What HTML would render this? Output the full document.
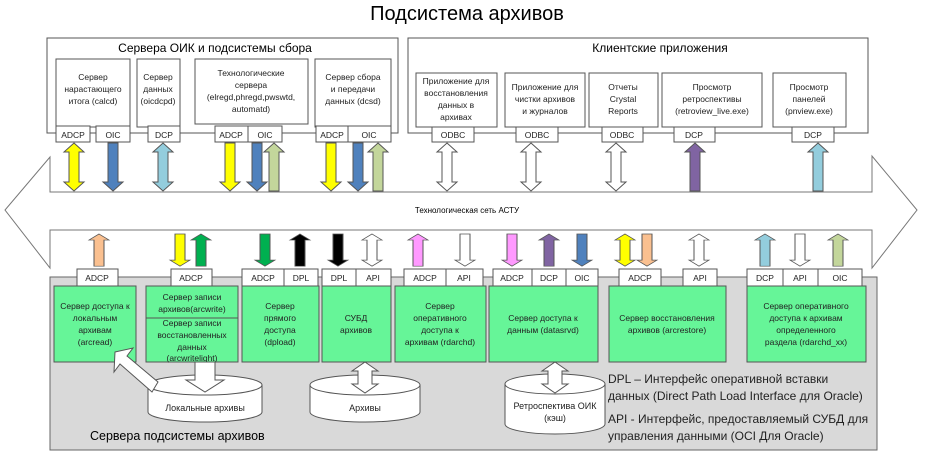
<!DOCTYPE html>
<html><head><meta charset="utf-8"><style>
body{margin:0;background:#fff}
svg{display:block;font-family:"Liberation Sans","Noto Sans CJK SC",sans-serif}
</style></head><body>
<svg width="934" height="458" viewBox="0 0 934 458" xmlns="http://www.w3.org/2000/svg">
<defs>
<path id="up" d="M0,0 L10,9 L5,9 L5,48 L-5,48 L-5,9 L-10,9 Z"/>
<path id="dn" d="M0,48 L10,39 L5,39 L5,0 L-5,0 L-5,39 L-10,39 Z"/>
<path id="db" d="M0,0 L10,9 L5,9 L5,39 L10,39 L0,48 L-10,39 L-5,39 L-5,9 L-10,9 Z"/>
</defs>
<text x="467" y="20" font-size="20" text-anchor="middle">Подсистема архивов</text>

<path d="M50,192 L50,157 L5,210 L50,268 L50,230 L872,230 L872,268 L917,210 L872,156 L872,192 Z" fill="#fff" stroke="#777" stroke-width="1"/>
<text x="467" y="213" font-size="8" text-anchor="middle">Технологическая сеть АСТУ</text>

<g stroke="#555" stroke-width="1" fill="#fff">
<rect x="47" y="38" width="351" height="95"/>
<rect x="408" y="38" width="460" height="95"/>
<rect x="56" y="59" width="74" height="68"/>
<rect x="137" y="59" width="43" height="68"/>
<rect x="195" y="59" width="113" height="65"/>
<rect x="315" y="59" width="76" height="68"/>
<rect x="56" y="126" width="34" height="16"/><rect x="96" y="126" width="34" height="16"/>
<rect x="148" y="126" width="32" height="16"/>
<rect x="215" y="126" width="33" height="16"/><rect x="248" y="126" width="34" height="16"/>
<rect x="316" y="126" width="32" height="16"/><rect x="348" y="126" width="43" height="16"/>
<rect x="416" y="73" width="81" height="54"/>
<rect x="505" y="73" width="80" height="54"/>
<rect x="589" y="73" width="69" height="54"/>
<rect x="662" y="73" width="100" height="54"/>
<rect x="773" y="73" width="73" height="54"/>
<rect x="432" y="127" width="42" height="15"/>
<rect x="516" y="127" width="42" height="15"/>
<rect x="602" y="127" width="41" height="15"/>
<rect x="674" y="127" width="41" height="15"/>
<rect x="792" y="127" width="42" height="15"/>
</g>
<g font-size="12" text-anchor="middle"><text x="215" y="52">Сервера ОИК и подсистемы сбора</text><text x="660" y="52">Клиентские приложения</text></g>
<g font-size="8.5" text-anchor="middle" fill="#222">
<text x="93" y="80">Сервер</text><text x="93" y="92">нарастающего</text><text x="93" y="104">итога (calcd)</text>
<text x="158" y="80">Сервер</text><text x="158" y="92">данных</text><text x="158" y="104">(oicdcpd)</text>
<text x="251" y="76">Технологические</text><text x="251" y="88">сервера</text><text x="251" y="100">(elregd,phregd,pwswtd,</text><text x="251" y="112">automatd)</text>
<text x="353" y="80">Сервер сбора</text><text x="353" y="92">и передачи</text><text x="353" y="104">данных (dcsd)</text>
<text x="456" y="84">Приложение для</text><text x="456" y="96">восстановления</text><text x="456" y="108">данных в</text><text x="456" y="120">архивах</text>
<text x="545" y="90">Приложение для</text><text x="545" y="102">чистки архивов</text><text x="545" y="114">и журналов</text>
<text x="623" y="90">Отчеты</text><text x="623" y="102">Crystal</text><text x="623" y="114">Reports</text>
<text x="712" y="90">Просмотр</text><text x="712" y="102">ретроспективы</text><text x="712" y="114">(retroview_live.exe)</text>
<text x="809" y="90">Просмотр</text><text x="809" y="102">панелей</text><text x="809" y="114">(pnview.exe)</text>
<text x="73" y="138">ADCP</text><text x="113" y="138">OIC</text><text x="164" y="138">DCP</text>
<text x="231" y="138">ADCP</text><text x="265" y="138">OIC</text><text x="332" y="138">ADCP</text><text x="369" y="138">OIC</text>
<text x="453" y="138">ODBC</text><text x="537" y="138">ODBC</text><text x="622" y="138">ODBC</text><text x="694" y="138">DCP</text><text x="813" y="138">DCP</text>
</g>
<g stroke="#555" stroke-width="1">
<use href="#db" transform="translate(74,143)" fill="#ffff00"/>
<use href="#dn" transform="translate(113,143)" fill="#4f81bd"/>
<use href="#db" transform="translate(163,143)" fill="#93cddd"/>
<use href="#dn" transform="translate(230,143)" fill="#ffff00"/>
<use href="#dn" transform="translate(257,143)" fill="#4f81bd"/>
<use href="#up" transform="translate(274,143)" fill="#c3d69b"/>
<use href="#dn" transform="translate(331,143)" fill="#ffff00"/>
<use href="#dn" transform="translate(358,143)" fill="#4f81bd"/>
<use href="#up" transform="translate(378,143)" fill="#c3d69b"/>
<use href="#db" transform="translate(447,143)" fill="#fff"/>
<use href="#db" transform="translate(531,143)" fill="#fff"/>
<use href="#db" transform="translate(616,143)" fill="#fff"/>
<use href="#up" transform="translate(695,143)" fill="#8064a2"/>
<use href="#up" transform="translate(818,143)" fill="#93cddd"/>
</g>

<rect x="50" y="277" width="827" height="173" fill="#d9d9d9" stroke="#666"/>
<g stroke="#555" fill="#fff">
<rect x="77" y="269" width="41" height="17"/>
<rect x="171" y="269" width="41" height="17"/>
<rect x="242" y="269" width="42" height="17"/><rect x="284" y="269" width="34" height="17"/>
<rect x="322" y="269" width="34" height="17"/><rect x="356" y="269" width="35" height="17"/>
<rect x="404" y="269" width="42" height="17"/><rect x="446" y="269" width="37" height="17"/>
<rect x="493" y="269" width="39" height="17"/><rect x="532" y="269" width="34" height="17"/><rect x="566" y="269" width="32" height="17"/>
<rect x="619" y="269" width="42" height="17"/>
<rect x="683" y="269" width="34" height="17"/>
<rect x="747" y="269" width="36" height="17"/><rect x="783" y="269" width="35" height="17"/><rect x="818" y="269" width="44" height="17"/>
</g>
<g stroke="#555" fill="#66f598">
<rect x="54" y="286" width="82" height="76"/>
<rect x="146" y="286" width="92" height="76"/>
<rect x="242" y="286" width="77" height="76"/>
<rect x="322" y="286" width="69" height="76"/>
<rect x="395" y="286" width="91" height="76"/>
<rect x="489" y="286" width="109" height="76"/>
<rect x="609" y="286" width="117" height="76"/>
<rect x="747" y="286" width="119" height="76"/>
</g>
<line x1="146" y1="318" x2="238" y2="318" stroke="#555"/>
<g font-size="8.5" text-anchor="middle" fill="#222">
<text x="97" y="281">ADCP</text><text x="191" y="281">ADCP</text><text x="263" y="281">ADCP</text><text x="301" y="281">DPL</text>
<text x="339" y="281">DPL</text><text x="373" y="281">API</text><text x="425" y="281">ADCP</text><text x="464" y="281">API</text>
<text x="512" y="281">ADCP</text><text x="549" y="281">DCP</text><text x="582" y="281">OIC</text><text x="640" y="281">ADCP</text>
<text x="700" y="281">API</text><text x="765" y="281">DCP</text><text x="800" y="281">API</text><text x="840" y="281">OIC</text>
<text x="95" y="309">Сервер доступа к</text><text x="95" y="321">локальным</text><text x="95" y="333">архивам</text><text x="95" y="345">(arcread)</text>
<text x="192" y="300">Сервер записи</text><text x="192" y="312">архивов(arcwrite)</text>
<text x="192" y="326">Сервер записи</text><text x="192" y="338">восстановленных</text><text x="192" y="350">данных</text><text x="192" y="361">(arcwritelight)</text>
<text x="280" y="309">Сервер</text><text x="280" y="321">прямого</text><text x="280" y="333">доступа</text><text x="280" y="345">(dpload)</text>
<text x="356" y="321">СУБД</text><text x="356" y="333">архивов</text>
<text x="440" y="309">Сервер</text><text x="440" y="321">оперативного</text><text x="440" y="333">доступа к</text><text x="440" y="345">архивам (rdarchd)</text>
<text x="543" y="321">Сервер доступа к</text><text x="543" y="333">данным (datasrvd)</text>
<text x="667" y="321">Сервер восстановления</text><text x="667" y="333">архивов (arcrestore)</text>
<text x="806" y="309">Сервер оперативного</text><text x="806" y="321">доступа к архивам</text><text x="806" y="333">определенного</text><text x="806" y="345">раздела (rdarchd_xx)</text>
</g>
<g stroke="#555" stroke-width="1">
<use href="#up" transform="translate(99,234) scale(1,0.67)" fill="#fac090"/>
<use href="#dn" transform="translate(180,234) scale(1,0.67)" fill="#ffff00"/>
<use href="#up" transform="translate(201,234) scale(1,0.67)" fill="#00b050"/>
<use href="#dn" transform="translate(265,234) scale(1,0.67)" fill="#00b050"/>
<use href="#up" transform="translate(300,234) scale(1,0.67)" fill="#000"/>
<use href="#dn" transform="translate(338,234) scale(1,0.67)" fill="#000"/>
<use href="#db" transform="translate(372,234) scale(1,0.67)" fill="#fff"/>
<use href="#up" transform="translate(418,234) scale(1,0.67)" fill="#ff99ff"/>
<use href="#dn" transform="translate(465,234) scale(1,0.67)" fill="#fff"/>
<use href="#dn" transform="translate(512,234) scale(1,0.67)" fill="#ff99ff"/>
<use href="#up" transform="translate(549,234) scale(1,0.67)" fill="#8064a2"/>
<use href="#dn" transform="translate(582,234) scale(1,0.67)" fill="#4f81bd"/>
<use href="#db" transform="translate(625,234) scale(1,0.67)" fill="#ffff00"/>
<use href="#dn" transform="translate(647,234) scale(1,0.67)" fill="#fac090"/>
<use href="#db" transform="translate(699,234) scale(1,0.67)" fill="#fff"/>
<use href="#up" transform="translate(765,234) scale(1,0.67)" fill="#93cddd"/>
<use href="#dn" transform="translate(800,234) scale(1,0.67)" fill="#fff"/>
<use href="#up" transform="translate(838,234) scale(1,0.67)" fill="#c3d69b"/>
</g>
<g stroke="#555" fill="#fff">
<path d="M148,385 L148,412 A57,10 0 0 0 262,412 L262,385"/>
<ellipse cx="205" cy="385" rx="57" ry="10"/>
<path d="M310,385 L310,412 A55,10 0 0 0 420,412 L420,385"/>
<ellipse cx="365" cy="385" rx="55" ry="10"/>
<path d="M505,384 L505,424 A50,10 0 0 0 605,424 L605,384"/>
<ellipse cx="555" cy="384" rx="50" ry="10"/>
<path d="M195,362 L215,362 L215,380 L224,380 L205,392 L186,380 L195,380 Z"/>
<path d="M365,362 L378,371 L372,371 L372,384 L378,384 L365,393 L352,384 L358,384 L358,371 L352,371 Z"/>
<path d="M555,362 L568,371 L562,371 L562,384 L568,384 L555,393 L542,384 L548,384 L548,371 L542,371 Z"/>
<path d="M115,352 L133,348 L127,356 L158,382 L152,392 L120,364 L114,372 Z"/>
</g>
<g font-size="9" text-anchor="middle" fill="#222">
<text x="205" y="411">Локальные архивы</text>
<text x="365" y="411">Архивы</text>
<text x="555" y="409">Ретроспектива ОИК</text><text x="555" y="421">(кэш)</text>
</g>
<text x="90" y="440" font-size="12.5">Сервера подсистемы архивов</text>
<g font-size="12" fill="#222">
<text x="608" y="383">DPL – Интерфейс оперативной вставки</text>
<text x="608" y="400">данных (Direct Path Load Interface для Oracle)</text>
<text x="608" y="423">API - Интерфейс, предоставляемый СУБД для</text>
<text x="608" y="440">управления данными (OCI Для Oracle)</text>
</g>
</svg>
</body></html>
